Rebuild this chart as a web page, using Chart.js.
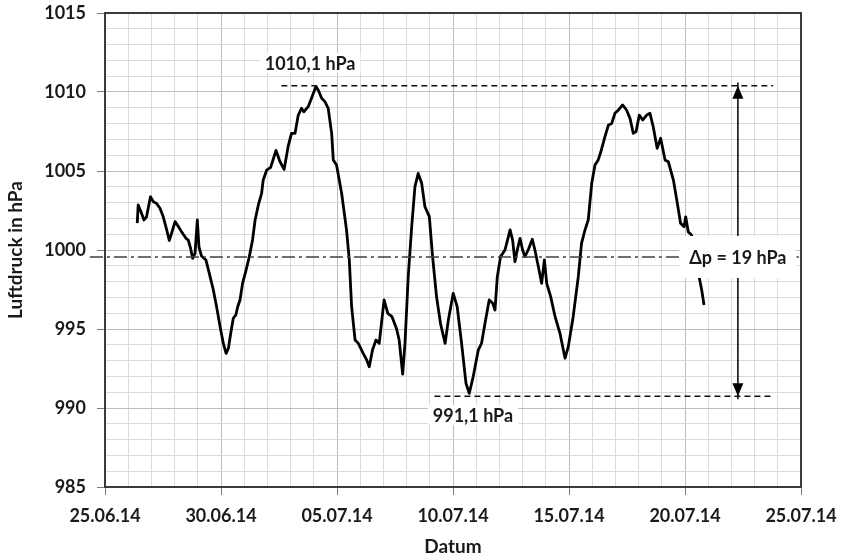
<!DOCTYPE html>
<html>
<head>
<meta charset="utf-8">
<script src="https://cdn.jsdelivr.net/npm/chart.js@4/dist/chart.umd.min.js"></script>
<style>
  html,body{margin:0;padding:0;background:#fff;}
  #wrap{width:842px;height:560px;}
</style>
</head>
<body>
<div id="wrap"><canvas id="c" width="842" height="560"></canvas></div>
<script>
// Luftdruck 25.06.14 - 25.07.14, x in Tagen ab 25.06.14
const days = [1.39,1.43,1.53,1.68,1.79,1.96,2.08,2.22,2.37,2.51,2.66,2.77,2.87,3.02,3.16,3.30,3.49,3.59,3.69,3.78,3.88,3.98,4.05,4.16,4.35,4.53,4.67,4.81,4.96,5.10,5.22,5.32,5.42,5.53,5.64,5.72,5.82,5.93,6.08,6.22,6.36,6.47,6.61,6.75,6.82,6.97,7.14,7.37,7.54,7.72,7.90,8.04,8.19,8.33,8.47,8.57,8.76,8.90,9.09,9.19,9.34,9.48,9.62,9.77,9.84,9.98,10.20,10.41,10.53,10.63,10.78,10.92,11.13,11.28,11.39,11.53,11.68,11.82,12.03,12.19,12.37,12.57,12.68,12.83,12.93,13.07,13.22,13.36,13.50,13.65,13.79,13.98,14.12,14.29,14.46,14.66,14.80,15.01,15.18,15.37,15.56,15.70,15.87,16.09,16.23,16.38,16.56,16.71,16.81,16.91,17.05,17.24,17.35,17.46,17.57,17.67,17.77,17.89,18.00,18.10,18.24,18.42,18.53,18.68,18.82,18.94,19.04,19.21,19.40,19.61,19.83,19.97,20.18,20.40,20.54,20.69,20.83,20.98,21.12,21.26,21.37,21.55,21.70,21.84,21.98,22.13,22.31,22.48,22.63,22.77,22.89,23.03,23.18,23.35,23.49,23.63,23.80,23.95,24.14,24.28,24.50,24.67,24.81,24.96,25.03,25.14,25.28,25.62,25.72,25.82];
const pressure = [1001.7,1002.85,1002.5,1001.9,1002.1,1003.37,1003.06,1002.95,1002.64,1002.1,1001.27,1000.6,1001.06,1001.8,1001.48,1001.16,1000.74,1000.63,1000.1,999.47,999.79,1001.9,1000.2,999.62,999.37,998.31,997.47,996.41,995.15,994.09,993.46,993.78,994.73,995.68,995.89,996.41,996.84,997.89,998.73,999.58,1000.63,1001.9,1002.85,1003.59,1004.43,1005.06,1005.23,1006.3,1005.6,1005.1,1006.6,1007.38,1007.38,1008.54,1008.97,1008.75,1009.07,1009.6,1010.34,1010.13,1009.6,1009.39,1008.97,1007.38,1005.7,1005.38,1003.59,1001.27,999.37,996.41,994.3,994.09,993.46,993.04,992.61,993.67,994.3,994.09,996.84,995.99,995.78,995.0,994.3,992.15,994.09,998.31,1001.48,1004.01,1004.85,1004.22,1002.74,1002.11,999.58,997.05,995.36,994.09,995.57,997.26,996.41,994.09,991.56,990.93,991.98,993.67,994.09,995.36,996.84,996.63,996.2,998.31,999.58,1000.0,1000.63,1001.27,1000.63,999.26,1000.0,1000.74,1000.0,999.58,1000.0,1000.68,1000.0,998.94,997.89,999.37,997.89,997.05,995.78,994.73,993.15,993.88,995.78,998.31,1000.42,1001.27,1001.9,1004.22,1005.38,1005.7,1006.2,1007.17,1007.91,1008.01,1008.65,1008.86,1009.18,1008.86,1008.33,1007.38,1007.49,1008.54,1008.23,1008.54,1008.65,1007.8,1006.44,1007.07,1005.7,1005.59,1004.43,1002.95,1001.69,1001.48,1002.1,1001.16,1000.95,998.21,997.47,996.52];
const xTickLabels = ['25.06.14','30.06.14','05.07.14','10.07.14','15.07.14','20.07.14','25.07.14'];

// Hilfslinien
const meanLevel = 999.55;
const meanLineSpan = [-0.65, 30];
const maxLevel = 1010.4, minLevel = 990.75;
const maxLineSpan = [7.6, 28.8];
const minLineSpan = [14.2, 28.8];
const arrowDay = 27.28;
const labelTexts = ['1010,1 hPa', '991,1 hPa', '\u0394p = 19 hPa'];
const labelDays = [8.84, 15.86, 27.28];
const labelLevels = [1011.84, 989.56, 999.56];

const FONT = "Lato, 'Noto Sans', sans-serif";
const pts = days.map((d,i)=>({x:d,y:pressure[i]}));

const annot = {
  id:'annot',
  afterDatasetsDraw(chart){
    const {ctx, scales:{x,y}, chartArea:a} = chart;
    ctx.save();
    // Pfeilspitzen
    const ax = x.getPixelForValue(arrowDay), yt = y.getPixelForValue(maxLevel), yb = y.getPixelForValue(minLevel);
    ctx.fillStyle='#000';
    ctx.beginPath(); ctx.moveTo(ax,yt); ctx.lineTo(ax-5.5,yt+13); ctx.lineTo(ax+5.5,yt+13); ctx.closePath(); ctx.fill();
    ctx.beginPath(); ctx.moveTo(ax,yb); ctx.lineTo(ax-5.5,yb-13); ctx.lineTo(ax+5.5,yb-13); ctx.closePath(); ctx.fill();
    // Beschriftungen mit weissem Hintergrund
    ctx.font = 'bold 18px '+FONT; ctx.textAlign='center'; ctx.textBaseline='middle';
    labelTexts.forEach((t,i)=>{
      const px = x.getPixelForValue(labelDays[i]), py = y.getPixelForValue(labelLevels[i]);
      const w = ctx.measureText(t).width;
      const padX = i===2?10:5, padY = i===2?21:10;
      ctx.fillStyle='#fff'; ctx.fillRect(px-w/2-padX, py-padY, w+2*padX, 2*padY);
      ctx.fillStyle='#1a1a1a'; ctx.fillText(t, px, py+1);
    });
    // Rahmen
    ctx.strokeStyle='#3a3a3a'; ctx.lineWidth=2;
    ctx.strokeRect(a.left, a.top, a.right-a.left, a.bottom-a.top);
    ctx.restore();
  }
};

const gridColor = c => c.tick && c.tick.value%5===0 ? '#bdbdbd' : '#dadada';
const tickMarkColor = c => c.tick && c.tick.value%5===0 ? '#7a7a7a' : 'rgba(0,0,0,0)';

new Chart(document.getElementById('c'), {
  type:'line',
  data:{datasets:[
    {data:[{x:meanLineSpan[0],y:meanLevel},{x:meanLineSpan[1],y:meanLevel}], borderColor:'#404040', borderWidth:1.5, borderDash:[13,4,3,4], pointRadius:0, clip:false},
    {data:[{x:maxLineSpan[0],y:maxLevel},{x:maxLineSpan[1],y:maxLevel}], borderColor:'#111', borderWidth:1.5, borderDash:[6,4], pointRadius:0},
    {data:[{x:minLineSpan[0],y:minLevel},{x:minLineSpan[1],y:minLevel}], borderColor:'#111', borderWidth:1.5, borderDash:[6,4], pointRadius:0},
    {data:[{x:arrowDay,y:maxLevel+0.2},{x:arrowDay,y:minLevel-0.2}], borderColor:'#000', borderWidth:1.5, pointRadius:0},
    {data:pts, borderColor:'#000', borderWidth:2.8, pointRadius:0, tension:0, borderJoinStyle:'round'}
  ]},
  options:{
    responsive:false, animation:false, events:[],
    layout:{padding:{top:13,right:41,bottom:0,left:0}},
    plugins:{legend:{display:false}, tooltip:{enabled:false}},
    scales:{
      x:{type:'linear', min:0, max:30,
        afterFit(s){ s.height = 73; s.paddingLeft = 0; s.paddingRight = 0; },
        grid:{color:gridColor, lineWidth:1, tickLength:8, tickColor:tickMarkColor},
        border:{display:true, color:'#3a3a3a', width:2},
        ticks:{stepSize:1, autoSkip:false, maxRotation:0, padding:10, color:'#1a1a1a',
          font:{family:FONT, size:18, weight:'bold'},
          callback:v=> v%5===0 ? xTickLabels[v/5] : ''},
        title:{display:true, text:'Datum', color:'#1a1a1a', font:{family:FONT, size:19, weight:'bold'}, padding:{top:0,bottom:2}}
      },
      y:{min:985, max:1015,
        afterFit(s){ s.width = 105; s.paddingTop = 0; s.paddingBottom = 0; },
        grid:{color:gridColor, lineWidth:1, tickLength:8, tickColor:tickMarkColor},
        border:{display:true, color:'#3a3a3a', width:2},
        ticks:{stepSize:1, autoSkip:false, padding:11, color:'#1a1a1a',
          font:{family:FONT, size:18, weight:'bold'},
          callback:v=> v%5===0 ? String(v) : ''},
        title:{display:true, text:'Luftdruck in hPa', color:'#1a1a1a', font:{family:FONT, size:19, weight:'bold'}, padding:{top:4,bottom:4}}
      }
    }
  },
  plugins:[annot]
});
</script>
</body>
</html>
